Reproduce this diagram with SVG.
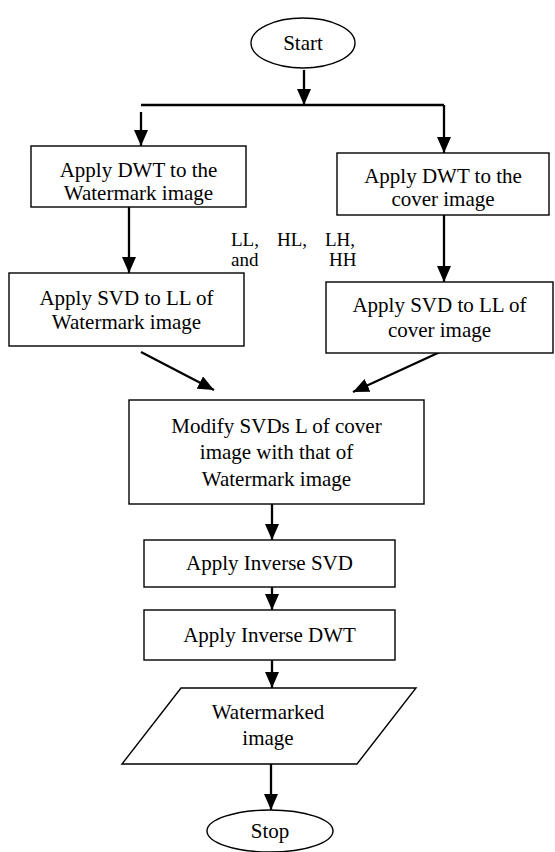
<svg xmlns="http://www.w3.org/2000/svg" width="555" height="852" viewBox="0 0 555 852">
<style>
.s{fill:#fff;stroke:#000;stroke-width:1.4}
.t{font-family:"Liberation Serif","Times New Roman",serif;font-size:21px;fill:#000;text-anchor:middle}
.l{font-family:"Liberation Serif","Times New Roman",serif;font-size:19px;fill:#000}
.c{fill:none;stroke:#000;stroke-width:2.3}
</style>
<defs>
<marker id="ah" markerUnits="userSpaceOnUse" markerWidth="16" markerHeight="14" refX="16" refY="7" orient="auto">
<path d="M0,0 L16,7 L0,14 z" fill="#000"/>
</marker>
</defs>
<rect width="555" height="852" fill="#fff"/>
<g id="connectors">
<line class="c" x1="304" y1="70" x2="304" y2="105" marker-end="url(#ah)"/>
<line class="c" x1="141" y1="105" x2="444" y2="105"/>
<line class="c" x1="141" y1="112" x2="141" y2="146" marker-end="url(#ah)"/>
<line class="c" x1="444" y1="105" x2="444" y2="153" marker-end="url(#ah)"/>
<line class="c" x1="129" y1="207" x2="129" y2="273" marker-end="url(#ah)"/>
<line class="c" x1="444" y1="215" x2="444" y2="282" marker-end="url(#ah)"/>
<line class="c" x1="141" y1="352" x2="214" y2="390" marker-end="url(#ah)"/>
<line class="c" x1="440" y1="352" x2="353" y2="392" marker-end="url(#ah)"/>
<line class="c" x1="272" y1="504" x2="272" y2="540" marker-end="url(#ah)"/>
<line class="c" x1="272" y1="587" x2="272" y2="610" marker-end="url(#ah)"/>
<line class="c" x1="272" y1="660" x2="272" y2="688" marker-end="url(#ah)"/>
<line class="c" x1="271" y1="764" x2="271" y2="810" marker-end="url(#ah)"/>
</g>
<g id="start">
<ellipse class="s" cx="303" cy="43" rx="52" ry="25"/>
<text class="t" x="303" y="50">Start</text>
</g>
<g id="dwt-watermark">
<rect class="s" x="31" y="146" width="215" height="61"/>
<text class="t" x="138.5" y="177">Apply DWT to the</text>
<text class="t" x="138.5" y="200">Watermark image</text>
</g>
<g id="dwt-cover">
<rect class="s" x="337" y="153" width="212" height="62"/>
<text class="t" x="443" y="183">Apply DWT to the</text>
<text class="t" x="443" y="206">cover image</text>
</g>
<g id="subbands">
<text class="l" x="231" y="246">LL,</text>
<text class="l" x="277" y="246">HL,</text>
<text class="l" x="325" y="246">LH,</text>
<text class="l" x="231" y="266">and</text>
<text class="l" x="329" y="266">HH</text>
</g>
<g id="svd-watermark">
<rect class="s" x="9" y="273" width="235" height="73"/>
<text class="t" x="126.5" y="305">Apply SVD to LL of</text>
<text class="t" x="126.5" y="329">Watermark image</text>
</g>
<g id="svd-cover">
<rect class="s" x="326" y="282" width="227" height="71"/>
<text class="t" x="439.5" y="312">Apply SVD to LL of</text>
<text class="t" x="439.5" y="337">cover image</text>
</g>
<g id="modify">
<rect class="s" x="129" y="400" width="295" height="104"/>
<text class="t" x="276.5" y="433">Modify SVDs L of cover</text>
<text class="t" x="276.5" y="459">image with that of</text>
<text class="t" x="276.5" y="486">Watermark image</text>
</g>
<g id="inverse-svd">
<rect class="s" x="144" y="540" width="251" height="47"/>
<text class="t" x="269.5" y="570">Apply Inverse SVD</text>
</g>
<g id="inverse-dwt">
<rect class="s" x="144" y="610" width="251" height="50"/>
<text class="t" x="269.5" y="642">Apply Inverse DWT</text>
</g>
<g id="watermarked">
<polygon class="s" points="181,688 416,688 357,764 122,764"/>
<text class="t" x="268" y="719">Watermarked</text>
<text class="t" x="268" y="745">image</text>
</g>
<g id="stop">
<ellipse class="s" cx="270" cy="831" rx="63" ry="21"/>
<text class="t" x="270" y="838">Stop</text>
</g>
</svg>
